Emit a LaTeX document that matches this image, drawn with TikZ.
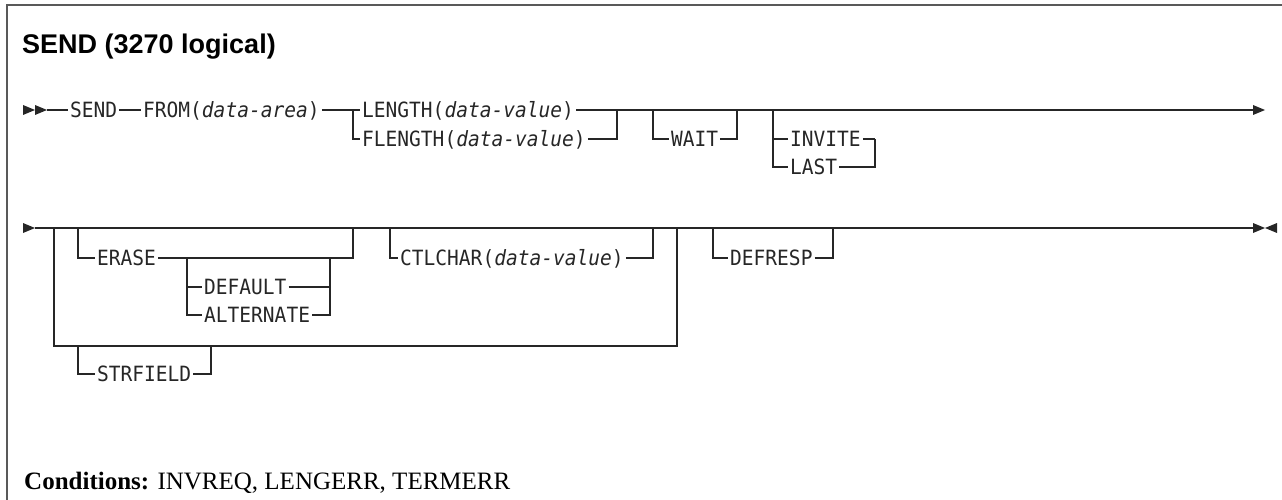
\documentclass[tikz,border=0pt]{standalone}
\usepackage{fontspec}
\newfontfamily\dmono{DejaVu Sans Mono}[FakeStretch=0.93,ItalicFont={DejaVu Sans Mono Oblique}]
\newfontfamily\ttlfont{Liberation Sans}
\newfontfamily\cndfont{Liberation Serif}
\begin{document}
\begin{tikzpicture}[x=1pt,y=-1pt,
  t/.style={font=\dmono\fontsize{21}{24}\selectfont, text=black!85, inner xsep=2pt, inner ysep=0pt, text height=15.3pt, text depth=0pt, anchor=west},
  ln/.style={line width=1.3pt, black!85},
  frame/.style={line width=2pt, black!65},
  tri/.style={fill=black!85, draw=none}]
\useasboundingbox (0,0) rectangle (1282,500);
% frame
\draw[frame] (1282,5) -- (7,5) -- (7,500);
% title
\node[anchor=base west, inner sep=0pt, font=\ttlfont\bfseries\fontsize{27}{30}\selectfont] (title) at (22,54) {SEND (3270 logical)};
% ---------------- row 1 ----------------
\coordinate (a1e) at (47,110);
\fill[tri] (23,105) -- (35,110) -- (23,115) -- cycle;
\fill[tri] (35,105) -- (47,110) -- (35,115) -- cycle;
\node[t] (send) at (68,110) {SEND};
\node[t] (from) at (141,110) {FROM(\textit{data-area})};
\node[t] (length) at (360,110) {LENGTH(\textit{data-value})};
\node[t] (flength) at (360,139) {FLENGTH(\textit{data-value})};
\node[t] (wait) at (669,139) {WAIT};
\node[t] (invite) at (788,139) {INVITE};
\node[t] (last) at (788,167) {LAST};
\coordinate (b1) at (353,110);
\coordinate (b2) at (617,110);
\coordinate (w1) at (653,110);
\coordinate (w2) at (737,110);
\coordinate (i1) at (773,110);
\coordinate (i2) at (875,139);
\coordinate (end1) at (1253,110);
\draw[ln] (a1e) -- (send.west);
\draw[ln] (send.east) -- (from.west);
\draw[ln] (from.east) -- (length.west);
\draw[ln] (length.east) -- (end1);
\draw[ln] (b1) |- (flength.west);
\draw[ln] (flength.east) -| (b2);
\draw[ln] (w1) |- (wait.west);
\draw[ln] (wait.east) -| (w2);
\draw[ln] (i1) |- (last.west);
\draw[ln] (i1 |- invite.west) -- (invite.west);
\draw[ln] (invite.east) -- (i2);
\draw[ln] (last.east) -| (i2);
\fill[tri] (1253,105) -- (1265,110) -- (1253,115) -- cycle;
% ---------------- row 2 ----------------
\coordinate (a2e) at (35,228);
\coordinate (end2) at (1253,228);
\fill[tri] (23,223) -- (35,228) -- (23,233) -- cycle;
\draw[ln] (a2e) -- (end2);
\fill[tri] (1253,223) -- (1265,228) -- (1253,233) -- cycle;
\fill[tri] (1277,223) -- (1265,228) -- (1277,233) -- cycle;
% big group
\coordinate (g1) at (54,228);
\coordinate (g2) at (677,228);
\coordinate (gb) at (54,346);
\draw[ln] (g1) -- (gb) -| (g2);
% ERASE
\node[t] (erase) at (95,258) {ERASE};
\node[t] (default) at (202,287) {DEFAULT};
\node[t] (alternate) at (202,315) {ALTERNATE};
\coordinate (e1) at (78,228);
\coordinate (e2) at (353,228);
\coordinate (d1) at (187,258);
\coordinate (d2) at (330,258);
\draw[ln] (e1) |- (erase.west);
\draw[ln] (erase.east) -| (e2);
\draw[ln] (d1) |- (alternate.west);
\draw[ln] (d1 |- default.west) -- (default.west);
\draw[ln] (default.east) -- (d2 |- default.east);
\draw[ln] (alternate.east) -| (d2);
% CTLCHAR
\node[t] (ctlchar) at (398,258) {CTLCHAR(\textit{data-value})};
\coordinate (c1) at (390,228);
\coordinate (c2) at (653,228);
\draw[ln] (c1) |- (ctlchar.west);
\draw[ln] (ctlchar.east) -| (c2);
% STRFIELD
\node[t] (strfield) at (95,374) {STRFIELD};
\coordinate (f1) at (78,346);
\coordinate (f2) at (211,346);
\draw[ln] (f1) |- (strfield.west);
\draw[ln] (strfield.east) -| (f2);
% DEFRESP
\node[t] (defresp) at (728,258) {DEFRESP};
\coordinate (r1) at (713,228);
\coordinate (r2) at (833,228);
\draw[ln] (r1) |- (defresp.west);
\draw[ln] (defresp.east) -| (r2);
% conditions
\node[anchor=base west, inner sep=0pt, font=\cndfont\fontsize{25}{28}\selectfont] (cond) at (24,489) {\textbf{Conditions:} INVREQ, LENGERR, TERMERR};
\end{tikzpicture}
\end{document}
